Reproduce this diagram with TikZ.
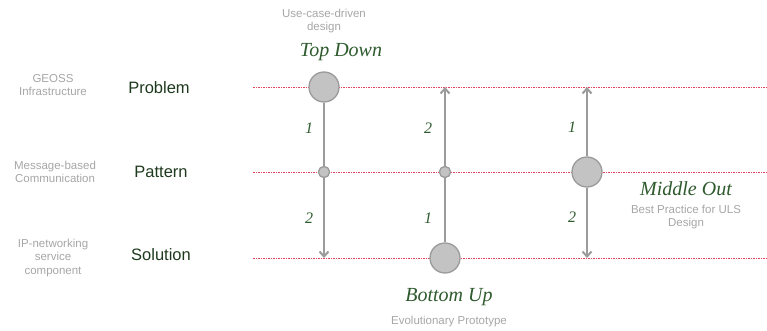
\documentclass[tikz,border=0pt]{standalone}
\usepackage{fontspec}
\setmainfont{Liberation Sans}
\newfontfamily\handfont{Liberation Serif}
\usetikzlibrary{arrows.meta}
\definecolor{levelred}{HTML}{E0445E}
\definecolor{flowgray}{HTML}{9B9B9B}
\definecolor{dotfill}{HTML}{C3C3C3}
\definecolor{notegray}{HTML}{A6A6A6}
\definecolor{levelgreen}{HTML}{1E3A1E}
\definecolor{handgreen}{HTML}{2E5A2E}
\begin{document}
\begin{tikzpicture}[x=1pt,y=-1pt,
  levelline/.style={levelred, line width=0.8pt, dash pattern=on 1.5pt off 1pt},
  flow/.style={flowgray, line width=2pt, -{Straight Barb[length=5pt,width=9pt]}},
  bigdot/.style={circle, fill=dotfill, draw=flowgray, line width=1.3pt, minimum size=30pt, inner sep=0pt},
  smalldot/.style={circle, fill=dotfill, draw=flowgray, line width=1.2pt, minimum size=11pt, inner sep=0pt},
  note/.style={text=notegray, font=\fontsize{11.5}{13.5}\selectfont, align=center},
  level/.style={text=levelgreen, font=\fontsize{16.5}{19}\selectfont},
  approach/.style={text=handgreen, font=\handfont\itshape\fontsize{20}{22}\selectfont},
  stepnum/.style={text=handgreen, font=\handfont\itshape\fontsize{16}{18}\selectfont}]
\useasboundingbox (0,0) rectangle (767,331);

% level lines
\coordinate (pL) at (253,87);  \coordinate (pR) at (767,87);
\coordinate (mL) at (253,172); \coordinate (mR) at (767,172);
\coordinate (sL) at (253,258); \coordinate (sR) at (767,258);
\draw[levelline] (pL) -- (pR);
\draw[levelline] (mL) -- (mR);
\draw[levelline] (sL) -- (sR);

% level labels
\node[note] (geoss) at (53,85) {GEOSS\\Infrastructure};
\node[level] (problem) at (159,88) {Problem};
\node[note] (msg) at (55,172) {Message-based\\Communication};
\node[level] (pattern) at (161,172) {Pattern};
\node[note] (ipnet) at (53,258) {IP-networking\\service\\component};
\node[level] (solution) at (161,255) {Solution};

% top down
\node[bigdot] (tdA) at (324,87) {};
\node[smalldot] (tdB) at (324,172) {};
\coordinate (tdC) at (324,258);
\draw[flow] (tdA) -- (tdC);
\node[smalldot] at (tdB) {};
\node[stepnum] (td1) at (309,128) {1};
\node[stepnum] (td2) at (309,218) {2};
\node[approach] (tdname) at (341,52) {Top Down};
\node[note] (tdnote) at (324,21) {Use-case-driven\\design};

% bottom up
\node[bigdot] (buA) at (445,258) {};
\node[smalldot] (buB) at (445,172) {};
\coordinate (buC) at (445,87);
\draw[flow] (buA) -- (buC);
\node[smalldot] at (buB) {};
\node[stepnum] (bu2) at (428,128) {2};
\node[stepnum] (bu1) at (428,218) {1};
\node[approach] (buname) at (449,297) {Bottom Up};
\node[note] (bunote) at (449,322) {Evolutionary Prototype};

% middle out
\node[bigdot] (moA) at (587,172) {};
\coordinate (moUp) at (587,87);
\coordinate (moDn) at (587,258);
\draw[flow] (moA) -- (moUp);
\draw[flow] (moA) -- (moDn);
\node[stepnum] (mo1) at (572,127) {1};
\node[stepnum] (mo2) at (572,217) {2};
\node[approach] (moname) at (686,189) {Middle Out};
\node[note] (monote) at (686,217) {Best Practice for ULS\\Design};
\end{tikzpicture}
\end{document}
